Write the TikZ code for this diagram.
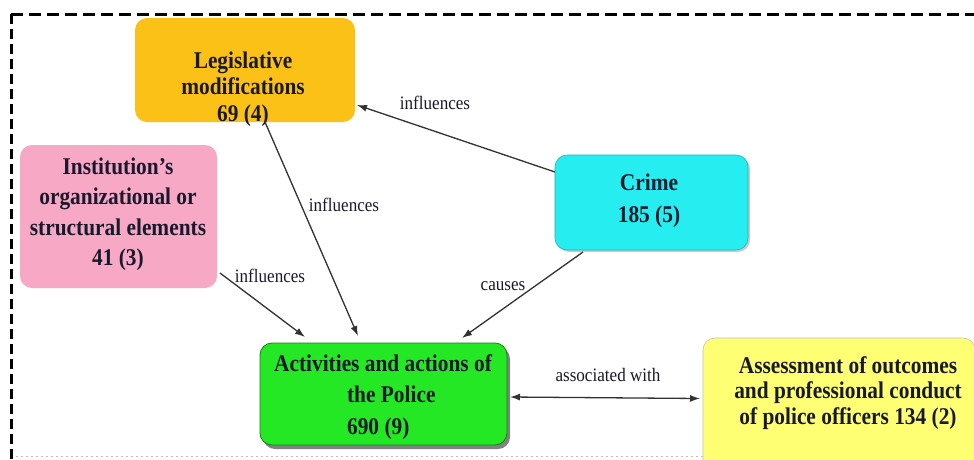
\documentclass[tikz,border=0pt]{standalone}
\usepackage{fontspec}
\setmainfont{Liberation Serif}
\newfontfamily\boxfont[FakeStretch=0.89]{Liberation Serif}
\newfontfamily\edgefont[FakeStretch=0.9]{Liberation Serif}
\usetikzlibrary{shadows,arrows.meta}
\definecolor{legc}{RGB}{251,193,22}
\definecolor{instc}{RGB}{246,168,196}
\definecolor{crimec}{RGB}{38,238,240}
\definecolor{polc}{RGB}{36,232,36}
\definecolor{assc}{RGB}{255,255,115}
\definecolor{txtc}{RGB}{25,25,45}
\definecolor{linec}{RGB}{50,50,50}
\tikzset{
  box/.style={rounded corners=12pt, inner sep=0pt, outer sep=0pt, anchor=north west},
  boxtxt/.style={font=\boxfont\bfseries\fontsize{24}{#1}\selectfont, align=center, text=txtc, inner sep=0pt},
  lbl/.style={font=\edgefont\fontsize{19}{22}\selectfont, text=txtc, inner sep=0pt},
  conn/.style={draw=linec, line width=1.3pt, -{Latex[length=10pt,width=7pt]}},
  frame/.style={line width=3pt, draw=black}
}
\begin{document}
\begin{tikzpicture}[x=1pt,y=-1pt]
\useasboundingbox (0,0) rectangle (974,459);
\fill[white] (0,0) rectangle (974,459);
% frame
\draw[frame, dash pattern=on 12pt off 6pt] (11,14) -- (974,14);
\draw[frame, dash pattern=on 10pt off 5pt] (11,14) -- (11,459);
\draw[gray!50, line width=1pt, dash pattern=on 2pt off 3pt] (16,456) -- (974,456);
% boxes
\node[box, fill=legc, minimum width=220pt, minimum height=104pt] (leg) at (135,18) {};
\node[box, fill=instc, minimum width=197pt, minimum height=143pt] (inst) at (20,145) {};
\node[box, fill=crimec, draw=crimec!75!black, line width=0.6pt, minimum width=193pt, minimum height=95pt,
      drop shadow={shadow xshift=2pt, shadow yshift=-2pt, fill=black!40, opacity=0.5}] (crime) at (555,155) {};
\node[box, fill=polc, draw=polc!55!black, line width=0.8pt, minimum width=247pt, minimum height=102pt,
      drop shadow={shadow xshift=3pt, shadow yshift=-4pt, fill=black!70, opacity=0.7}] (pol) at (260,343) {};
\node[box, fill=assc, draw=gray!50, line width=0.6pt, minimum width=272pt, minimum height=135pt] (ass) at (703,338) {};
% texts
\node[boxtxt=26.5] (legt) at (243,89) {Legislative\\modifications\\69 (4)};
\node[boxtxt=30.5] (instt) at (118,214) {Institution’s\\organizational or\\structural elements\\41 (3)};
\node[boxtxt=32] (crimet) at (649,201) {Crime\\185 (5)};
\node[boxtxt=31.5, align=left] (polt) at (383,397) {Activities and actions of\\\hspace*{73pt}the Police\\\hspace*{73pt}690 (9)};
\node[boxtxt=25.5] (asst) at (848,393) {Assessment of outcomes\\and professional conduct\\of police officers 134 (2)};
% connectors
\draw[conn] ([yshift=-17pt]crime.north west) -- ([xshift=2pt,yshift=17pt]leg.south east);
\draw[conn] ([xshift=130pt]leg.south west) -- ([xshift=98pt,yshift=7pt]pol.north west);
\draw[conn] ([xshift=3pt,yshift=15pt]inst.south east) -- ([xshift=45pt,yshift=6pt]pol.north west);
\draw[conn] ([xshift=28pt,yshift=-2pt]crime.south west) -- ([xshift=-45pt,yshift=5pt]pol.north east);
\draw[conn, {Latex[length=10pt,width=7pt]}-{Latex[length=10pt,width=7pt]}] ([xshift=3pt,yshift=-3pt]pol.east) -- ([xshift=-3pt,yshift=7pt]ass.west);
% labels
\node[lbl] (l1) at (435,103) {influences};
\node[lbl] (l2) at (344,205) {influences};
\node[lbl] (l3) at (270,276) {influences};
\node[lbl] (l4) at (503,286) {causes};
\node[lbl] (l5) at (608,375) {associated with};
\end{tikzpicture}
\end{document}
